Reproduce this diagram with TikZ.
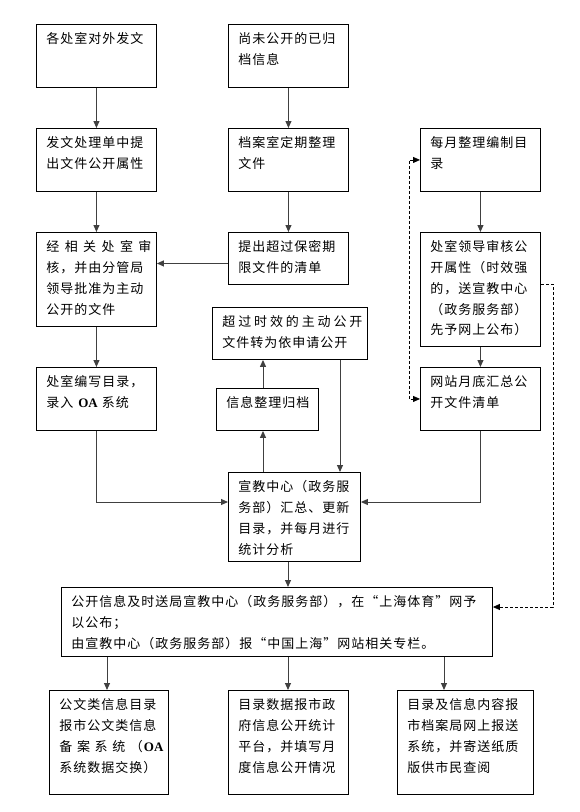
\documentclass[tikz,border=0pt]{standalone}
\usepackage{fontspec}
\setmainfont{Liberation Serif}
\newfontfamily\cjk[LetterSpace=7.7]{Noto Sans CJK SC}
\usetikzlibrary{arrows.meta}
\newcommand\fl{\rule{0pt}{19.5pt}}
\newcommand\bt[3]{\parbox[c][#2pt][t]{#1pt}{\leftskip=10pt\rightskip=5pt\relax\fl #3\par}}
\newcommand\lat[1]{\textrm{\bfseries #1}}
\tikzset{
  bx/.style={draw, line width=0.9pt, anchor=north west, inner sep=0pt,
    font=\cjk\fontsize{13}{20.7}\selectfont},
  arr/.style={draw=black!75, line width=1pt, -{Triangle[length=7pt,width=6pt]}},
  dsh/.style={line width=0.8pt, dash pattern=on 3pt off 2pt}
}
\begin{document}
\begin{tikzpicture}[x=1pt,y=-1pt]
\useasboundingbox[fill=white] (0,0) rectangle (579,812);
% left column
\node[bx] (a1) at (36,24) {\bt{120}{63}{各处室对外发文}};
\node[bx] (a2) at (36,128) {\bt{120}{63}{发文处理单中提\\出文件公开属性}};
\node[bx] (a3) at (36,232) {\bt{120}{94}{经\hfill 相\hfill 关\hfill 处\hfill 室\hfill 审\\核，并由分管局\\领导批准为主动\\公开的文件}};
\node[bx] (a4) at (36,367) {\bt{120}{63}{处室编写目录，\\录入 \lat{OA} 系统}};
% middle column
\node[bx] (b1) at (228,24) {\bt{120}{63}{尚未公开的已归\\档信息}};
\node[bx] (b2) at (228,128) {\bt{120}{63}{档案室定期整理\\文件}};
\node[bx] (b3) at (228,232) {\bt{120}{52}{提出超过保密期\\限文件的清单}};
\node[bx] (b4) at (212,307) {\bt{155}{52}{超\hfill 过\hfill 时\hfill 效\hfill 的\hfill 主\hfill 动\hfill 公\hfill 开\\文件转为依申请公开}};
\node[bx] (b5) at (216,388) {\bt{102}{42}{信息整理归档}};
\node[bx] (c) at (228,472) {\bt{132}{89}{宣教中心（政务服\\务部）汇总、更新\\目录，并每月进行\\统计分析}};
% right column
\node[bx] (r1) at (420,128) {\bt{120}{63}{每月整理编制目\\录}};
\node[bx] (r2) at (420,232) {\bt{120}{114}{处室领导审核公\\开属性（时效强\\的，送宣教中心\\（政务服务部）\\先予网上公布）}};
\node[bx] (r3) at (420,367) {\bt{120}{63}{网站月底汇总公\\开文件清单}};
% wide box
\node[bx] (p) at (61,587) {\bt{431}{69}{公开信息及时送局宣教中心（政务服务部），在“上海体育”网予\\以公布；\\由宣教中心（政务服务部）报“中国上海”网站相关专栏。}};
% bottom row
\node[bx] (d1) at (49,690) {\bt{119}{104}{公文类信息目录\\报市公文类信息\\备\hfill 案\hfill 系\hfill 统\hfill （\lat{OA}\\系统数据交换）}};
\node[bx] (d2) at (228,690) {\bt{120}{104}{目录数据报市政\\府信息公开统计\\平台，并填写月\\度信息公开情况}};
\node[bx] (d3) at (397,690) {\bt{136}{104}{目录及信息内容报\\市档案局网上报送\\系统，并寄送纸质\\版供市民查阅}};
% connectors
\draw[arr] (a1) -- (a2);
\draw[arr] (a2) -- (a3);
\draw[arr] (a3) -- (a4);
\draw[arr] (b1) -- (b2);
\draw[arr] (b2) -- (b3);
\coordinate (b3w) at ([yshift=-5pt]b3.west);
\draw[arr] (b3w) -- (b3w -| a3.east);
\draw[arr] (a4.south) |- (c.west |- 0,502);
\draw[arr] (r3.south) |- (c.east |- 0,502);
\draw[arr] (c.north -| 263,0) -- (b5.south -| 263,0);
\draw[arr] (b5.north -| 263,0) -- (b4.south -| 263,0);
\draw[arr] (b4.south -| 340,0) -- (c.north -| 340,0);
\draw[arr] (r1) -- (r2);
\draw[arr] (r2) -- (r3);
\draw[arr] (c.south -| 288,0) -- (p.north -| 288,0);
\draw[arr] (p.south -| 107,0) -- (d1.north -| 107,0);
\draw[arr] (p.south -| 288,0) -- (d2.north -| 288,0);
\draw[arr] (p.south -| 444,0) -- (d3.north -| 444,0);
\draw[dsh, {Triangle[length=7pt,width=6pt]}-{Triangle[length=7pt,width=6pt]}] (r1.west) -- ++(-11,0) |- (r3.west);
\draw[dsh, -{Triangle[length=7pt,width=6pt]}] (r2.east |- 0,284) -- ++(12,0) |- (p.east |- 0,607);
\end{tikzpicture}
\end{document}
